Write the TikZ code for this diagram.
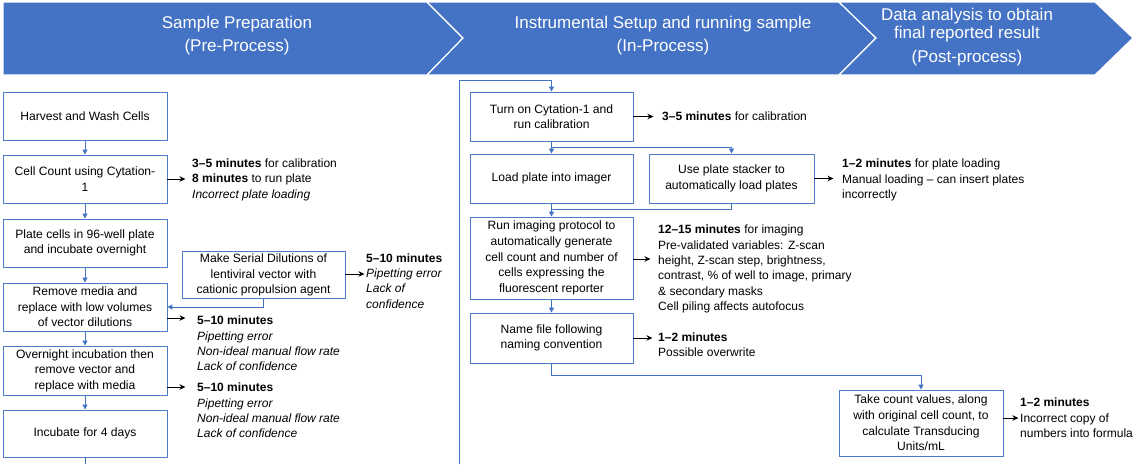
\documentclass[tikz,border=0pt]{standalone}
\usepackage{fontspec}
\setmainfont{Liberation Sans}
\usetikzlibrary{arrows.meta}
\definecolor{hdrblue}{HTML}{4472C4}
\definecolor{boxblue}{HTML}{4F7AC7}
\begin{document}
\begin{tikzpicture}[x=1pt,y=-1pt,
  stepbox/.style={draw=boxblue,line width=0.9pt,fill=white,align=center,
    inner sep=2pt,font=\fontsize{12.1}{15.6}\selectfont},
  note/.style={anchor=west,align=left,inner sep=0pt,
    font=\fontsize{12}{15.4}\selectfont},
  hdr/.style={fill=hdrblue,draw=white,line width=1.2pt,line join=miter},
  hdrtext/.style={text=white,align=center,font=\fontsize{17}{23}\selectfont},
  flow/.style={draw=hdrblue,line width=1pt,-{Triangle[length=5pt,width=5pt]}},
  link/.style={draw=hdrblue,line width=1pt},
  pointer/.style={draw=black,line width=1pt,-{Stealth[length=6pt,width=5.5pt]}}]

\useasboundingbox[fill=white] (0,0) rectangle (1141,464);

% ---- phase chevrons ----
\draw[hdr] (3,2) -- (427,2) -- (463,38) -- (427,75) -- (3,75) -- cycle;
\draw[hdr] (427,2) -- (839,2) -- (876,38) -- (839,75) -- (427,75) -- (463,38) -- cycle;
\draw[hdr] (839,2) -- (1095,2) -- (1133,38) -- (1095,75) -- (839,75) -- (876,38) -- cycle;
\node[hdrtext] (h1) at (237,36) {Sample Preparation\\(Pre-Process)};
\node[hdrtext] (h2) at (663,36) {Instrumental Setup and running sample\\(In-Process)};
\node[hdrtext,font=\fontsize{17}{18.5}\selectfont] (h3) at (967,37)
  {Data analysis to obtain\\final reported result\\[5pt](Post-process)};

% ---- pre-process steps ----
\node[stepbox,minimum width=164pt,minimum height=48pt] (harv) at (85,116) {Harvest and Wash Cells};
\node[stepbox,minimum width=164pt,minimum height=48pt] (count) at (85,179) {Cell Count using Cytation-\\1};
\node[stepbox,minimum width=164pt,minimum height=48pt] (plate) at (85,243) {Plate cells in 96-well plate\\and incubate overnight};
\node[stepbox,minimum width=163pt,minimum height=46pt] (dil) at (263.5,275) {Make Serial Dilutions of\\lentiviral vector with\\cationic propulsion agent};
\node[stepbox,minimum width=164pt,minimum height=48pt] (remove) at (85,307) {Remove media and\\replace with low volumes\\of vector dilutions};
\node[stepbox,minimum width=164pt,minimum height=49pt] (over) at (85,370.5) {Overnight incubation then\\remove vector and\\replace with media};
\node[stepbox,minimum width=164pt,minimum height=47pt] (incub) at (85,433.5) {Incubate for 4 days};

\draw[flow] (harv) -- (count);
\draw[flow] (count) -- (plate);
\draw[flow] (plate) -- (remove);
\draw[flow] (remove) -- (over);
\draw[flow] (over) -- (incub);
\draw[flow] (dil.south) |- (remove.east);

% ---- in-process steps ----
\node[stepbox,minimum width=163pt,minimum height=49pt] (turn) at (551.5,116.5) {Turn on Cytation-1 and\\run calibration};
\node[stepbox,minimum width=163pt,minimum height=49pt] (load) at (551.5,178.5) {Load plate into imager};
\node[stepbox,minimum width=165pt,minimum height=49pt] (stack) at (731.5,178.5) {Use plate stacker to\\automatically load plates};
\node[stepbox,minimum width=163pt,minimum height=82pt] (run) at (551.5,258) {Run imaging protocol to\\automatically generate\\cell count and number of\\cells expressing the\\fluorescent reporter};
\node[stepbox,minimum width=163pt,minimum height=50pt] (name) at (551.5,338) {Name file following\\naming convention};

\draw[flow] (turn) -- (load);
\draw[flow] (turn.south) -- ++(0,6) -| (stack.north);
\draw[flow] (load) -- (run);
\draw[link] (stack.south) |- ([yshift=-6pt]load.south);
\draw[flow] (run) -- (name);

% ---- post-process step ----
\node[stepbox,minimum width=164pt,minimum height=66pt] (take) at (921,423) {Take count values, along\\with original cell count, to\\calculate Transducing\\Units/mL};
\draw[flow] (name.south) -- ++(0,12) -| (take.north);

% ---- hand-over from sample preparation to the instrument ----
\coordinate (loopL) at (85,464);
\coordinate (loopR) at (459,464);
\draw[link] (incub.south) -- (loopL);
\draw[flow] (loopR) |- ([yshift=11pt]turn.north) -- (turn.north);

% ---- timing and risk notes ----
\node[note] (n1) at (192,179.5) {\textbf{3–5 minutes} for calibration\\\textbf{8 minutes} to run plate\\\textit{Incorrect plate loading}};
\draw[pointer] (count.east) -- ++(18,0);

\node[note] (n2) at (366,281) {\textbf{5–10 minutes}\\\textit{Pipetting error}\\\textit{Lack of}\\\textit{confidence}};
\draw[pointer] ([yshift=1pt]dil.east) -- ++(19,0);

\node[note] (n3) at (197,343.5) {\textbf{5–10 minutes}\\\textit{Pipetting error}\\\textit{Non-ideal manual flow rate}\\\textit{Lack of confidence}};
\draw[pointer] ([yshift=-11pt]remove.east) -- ++(18,0);

\node[note] (n4) at (197,410.5) {\textbf{5–10 minutes}\\\textit{Pipetting error}\\\textit{Non-ideal manual flow rate}\\\textit{Lack of confidence}};
\draw[pointer] ([yshift=-16.5pt]over.east) -- ++(18,0);

\node[note] (n5) at (662,116) {\textbf{3–5 minutes} for calibration};
\draw[pointer] (turn.east) -- ++(20,0);

\node[note] (n6) at (842,180) {\textbf{1–2 minutes} for plate loading\\Manual loading  – can insert plates\\incorrectly};
\draw[pointer] (stack.east) -- ++(19,0);

\node[note] (n7) at (658,269) {\textbf{12–15 minutes} for imaging\\Pre-validated variables: Z-scan\\height, Z-scan step, brightness,\\contrast, \% of well to image, primary\\\& secondary masks\\Cell piling affects autofocus};
\draw[pointer] ([yshift=-1pt]run.east) -- ++(17,0);

\node[note] (n8) at (658,344.5) {\textbf{1–2 minutes}\\Possible overwrite};
\draw[pointer] (name.east) -- ++(19,0);

\node[note] (n9) at (1020,418) {\textbf{1–2 minutes}\\Incorrect copy of\\numbers into formula};
\draw[pointer] ([yshift=5pt]take.east) -- ++(15,0);

\end{tikzpicture}
\end{document}
